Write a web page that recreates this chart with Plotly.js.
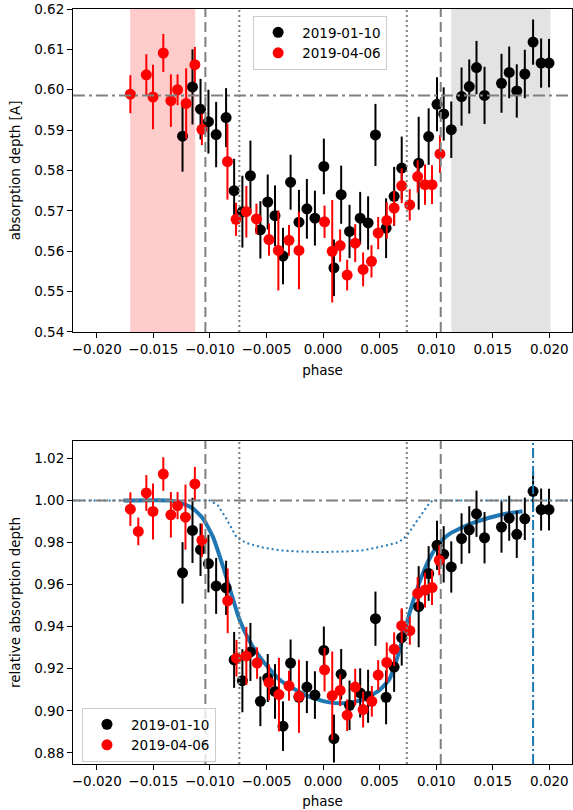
<!DOCTYPE html>
<html>
<head>
<meta charset="utf-8">
<script src="https://cdn.plot.ly/plotly-3.0.1.min.js"></script>
<style>html,body{margin:0;padding:0;background:#fff;}#chart{width:573px;height:810px;}</style>
</head>
<body>
<div id="chart"></div>
<script>
// ---------- data ----------
const labelBlack = "2019-01-10";
const labelRed = "2019-04-06";

const phaseBlack = [-0.01242,-0.01154,-0.01083,-0.01013,-0.00945,-0.00857,-0.00786,-0.00713,-0.00642,-0.00554,-0.00489,-0.00425,-0.00354,-0.00287,-0.00213,-0.00143,-0.00072,0.00007,0.00096,0.00160,0.00234,0.00328,0.00398,0.00463,0.00557,0.00628,0.00695,0.00845,0.00933,0.01007,0.01066,0.01133,0.01224,0.01292,0.01356,0.01427,0.01577,0.01645,0.01712,0.01783,0.01856,0.01927,0.01997];
const depthBlack = [0.5885,0.6007,0.5952,0.5921,0.5889,0.5931,0.5750,0.5698,0.5787,0.5653,0.5722,0.5688,0.5588,0.5771,0.5672,0.5705,0.5682,0.5810,0.5559,0.5740,0.5649,0.5682,0.5670,0.5888,0.5657,0.5736,0.5806,0.5818,0.5884,0.5964,0.5940,0.5901,0.5983,0.6008,0.6055,0.5986,0.6016,0.6043,0.5997,0.6039,0.6118,0.6066,0.6066];
const depthErrBlack = [0.0088,0.0093,0.0075,0.0079,0.0081,0.0073,0.0079,0.0089,0.0087,0.0071,0.0068,0.0075,0.0070,0.0068,0.0080,0.0074,0.0068,0.0069,0.0070,0.0072,0.0066,0.0065,0.0066,0.0077,0.0074,0.0073,0.0078,0.0115,0.0070,0.0067,0.0066,0.0070,0.0072,0.0067,0.0066,0.0071,0.0073,0.0064,0.0066,0.0060,0.0056,0.0061,0.0060];
const relBlack = [0.9656,0.9858,0.9766,0.9700,0.9594,0.9585,0.9242,0.9143,0.9280,0.9045,0.9156,0.9092,0.8927,0.9227,0.9064,0.9113,0.9075,0.9287,0.8868,0.9174,0.9026,0.9085,0.9069,0.9438,0.9064,0.9208,0.9348,0.9495,0.9653,0.9787,0.9744,0.9684,0.9819,0.9861,0.9937,0.9823,0.9874,0.9916,0.9839,0.9913,1.0044,0.9957,0.9957];
const relErrBlack = [0.0146,0.0155,0.0125,0.0137,0.0133,0.0129,0.0133,0.0150,0.0138,0.0118,0.0114,0.0130,0.0118,0.0112,0.0126,0.0124,0.0113,0.0114,0.0114,0.0120,0.0118,0.0117,0.0126,0.0129,0.0128,0.0118,0.0133,0.0193,0.0130,0.0117,0.0134,0.0122,0.0120,0.0112,0.0110,0.0122,0.0122,0.0107,0.0112,0.0101,0.0095,0.0100,0.0099];

const phaseRed = [-0.01703,-0.01562,-0.01503,-0.01412,-0.01345,-0.01286,-0.01210,-0.01133,-0.01071,-0.00845,-0.00769,-0.00678,-0.00589,-0.00478,-0.00395,-0.00301,-0.00213,0.00013,0.00081,0.00151,0.00213,0.00284,0.00354,0.00428,0.00487,0.00563,0.00628,0.00695,0.00766,0.00836,0.00901,0.00963,0.01033];
const depthRed = [0.5989,0.6037,0.5982,0.6091,0.5973,0.6000,0.5966,0.6062,0.5902,0.5822,0.5679,0.5698,0.5680,0.5629,0.5602,0.5627,0.5602,0.5673,0.5600,0.5614,0.5541,0.5620,0.5555,0.5575,0.5645,0.5676,0.5707,0.5762,0.5715,0.5785,0.5765,0.5765,0.5841];
const depthErrRed = [0.0047,0.0051,0.0080,0.0047,0.0065,0.0038,0.0087,0.0044,0.0039,0.0094,0.0041,0.0064,0.0038,0.0040,0.0099,0.0038,0.0096,0.0040,0.0127,0.0040,0.0038,0.0047,0.0042,0.0040,0.0040,0.0045,0.0043,0.0043,0.0039,0.0040,0.0050,0.0048,0.0047];

const phaseRedRel = [-0.01703,-0.01633,-0.01562,-0.01503,-0.01412,-0.01345,-0.01286,-0.01216,-0.01133,-0.01071,-0.00843,-0.00765,-0.00678,-0.00583,-0.00478,-0.00390,-0.00301,-0.00213,0.00013,0.00081,0.00151,0.00213,0.00284,0.00354,0.00431,0.00487,0.00563,0.00628,0.00695,0.00767,0.00836,0.00901,0.00963,0.01027];
const relRed = [0.9959,0.9853,1.0036,0.9948,1.0126,0.9932,0.9976,0.9921,1.0079,0.9811,0.9523,0.9250,0.9261,0.9227,0.9135,0.9077,0.9119,0.9069,0.9195,0.9072,0.9097,0.8979,0.9113,0.9006,0.9045,0.9170,0.9230,0.9293,0.9405,0.9381,0.9558,0.9574,0.9586,0.9716];
const relErrRed = [0.0080,0.0066,0.0085,0.0133,0.0080,0.0108,0.0065,0.0155,0.0081,0.0079,0.0154,0.0087,0.0138,0.0075,0.0085,0.0175,0.0071,0.0174,0.0103,0.0210,0.0075,0.0075,0.0087,0.0085,0.0073,0.0071,0.0095,0.0080,0.0083,0.0067,0.0079,0.0083,0.0083,0.0071];

const modelPhase = [-0.01765,-0.01354,-0.01236,-0.01148,-0.01060,-0.00972,-0.00883,-0.00810,-0.00736,-0.00648,-0.00530,-0.00384,-0.00236,-0.00090,0.00057,0.00205,0.00351,0.00498,0.00586,0.00646,0.00704,0.00762,0.00821,0.00880,0.00939,0.00998,0.01056,0.01115,0.01233,0.01350,0.01468,0.01615,0.01762];
const modelRel = [1.0000,1.0000,0.9984,0.9961,0.9913,0.9826,0.9684,0.9555,0.9430,0.9330,0.9235,0.9148,0.9098,0.9061,0.9040,0.9037,0.9053,0.9098,0.9150,0.9235,0.9345,0.9460,0.9563,0.9650,0.9722,0.9776,0.9814,0.9840,0.9873,0.9898,0.9918,0.9937,0.9949];

const dottedPhase = [-0.030,-0.01000,-0.00928,-0.00854,-0.00766,-0.00678,-0.00530,-0.00384,-0.00236,0.00000,0.00205,0.00351,0.00498,0.00646,0.00704,0.00763,0.00821,0.00880,0.00939,0.00968,0.030];
const dottedRel = [1.0000,1.0000,0.9976,0.9913,0.9826,0.9798,0.9776,0.9763,0.9758,0.9755,0.9758,0.9763,0.9779,0.9798,0.9814,0.9850,0.9897,0.9945,0.9987,1.0000,1.0000];

const baselineDepth = 0.5986;
const baselineRel = 1.0;
const contactOuter = 0.0104;
const contactInner = 0.0074;
const preWindow = [-0.01705, -0.0113];
const postWindow = [0.01133, 0.0201];
const markPhase = 0.01856;

// ---------- styles ----------
const FONT = "DejaVu Sans, sans-serif";
const FS = 13.5;
const BLUE = "#1f77b4";
const GREY = "#808080";

function pts(x, y, err, color, name, xa, ya, legend, showleg) {
  return {
    type: "scatter", mode: "markers", x: x, y: y, name: name,
    xaxis: xa, yaxis: ya, legend: legend, showlegend: showleg,
    marker: {color: color, size: 11},
    error_y: {type: "data", array: err, visible: true, color: color, thickness: 2, width: 0}
  };
}

const traces = [
  {type: "scatter", mode: "lines", x: dottedPhase, y: dottedRel, xaxis: "x2", yaxis: "y2", showlegend: false,
   line: {color: BLUE, width: 2, dash: "2px,3px"}},
  {type: "scatter", mode: "lines", x: modelPhase, y: modelRel, xaxis: "x2", yaxis: "y2", showlegend: false,
   line: {color: BLUE, width: 4, shape: "spline", smoothing: 0.5}},
  pts(phaseBlack, depthBlack, depthErrBlack, "black", labelBlack, "x", "y", "legend", true),
  pts(phaseRed, depthRed, depthErrRed, "red", labelRed, "x", "y", "legend", true),
  pts(phaseBlack, relBlack, relErrBlack, "black", labelBlack, "x2", "y2", "legend2", true),
  pts(phaseRedRel, relRed, relErrRed, "red", labelRed, "x2", "y2", "legend2", true)
];

function vline(x, xref, yref, dash, color, width) {
  return {type: "line", xref: xref, yref: yref + " domain", x0: x, x1: x, y0: 0, y1: 1,
          line: {color: color, width: width, dash: dash}, layer: "above"};
}
function hline(y, xref, yref, dash, color) {
  return {type: "line", xref: xref + " domain", yref: yref, x0: 0, x1: 1, y0: y, y1: y,
          line: {color: color, width: 2, dash: dash}, layer: "above"};
}

const shapes = [
  {type: "rect", xref: "x", yref: "y domain", x0: preWindow[0], x1: preWindow[1], y0: 0, y1: 1,
   fillcolor: "rgba(255,0,0,0.2)", line: {width: 0}, layer: "below"},
  {type: "rect", xref: "x", yref: "y domain", x0: postWindow[0], x1: postWindow[1], y0: 0, y1: 1,
   fillcolor: "rgba(128,128,128,0.22)", line: {width: 0}, layer: "below"},
  hline(baselineDepth, "x", "y", "12px,4px,3px,4px", GREY),
  hline(baselineRel, "x2", "y2", "12px,4px,3px,4px", GREY),
  vline(-contactOuter, "x", "y", "10px,5px", GREY, 2),
  vline(contactOuter, "x", "y", "10px,5px", GREY, 2),
  vline(-contactInner, "x", "y", "2px,3px", GREY, 2),
  vline(contactInner, "x", "y", "2px,3px", GREY, 2),
  vline(-contactOuter, "x2", "y2", "10px,5px", GREY, 2),
  vline(contactOuter, "x2", "y2", "10px,5px", GREY, 2),
  vline(-contactInner, "x2", "y2", "2px,3px", GREY, 2),
  vline(contactInner, "x2", "y2", "2px,3px", GREY, 2),
  vline(markPhase, "x2", "y2", "10px,3px,2px,3px", BLUE, 2)
];

const xcommon = {
  range: [-0.0221, 0.0220], tick0: 0, dtick: 0.005, tickformat: ".3f",
  ticks: "outside", ticklen: 5, tickwidth: 1, tickcolor: "black",
  showline: true, mirror: true, linecolor: "black", linewidth: 1,
  showgrid: false, zeroline: false,
  tickfont: {family: FONT, size: FS, color: "black"}
};
const ycommon = {
  ticks: "outside", ticklen: 5, tickwidth: 1, tickcolor: "black",
  showline: true, mirror: true, linecolor: "black", linewidth: 1,
  showgrid: false, zeroline: false, tickformat: ".2f",
  tickfont: {family: FONT, size: FS, color: "black"}
};
const legendCommon = {
  bgcolor: "rgba(255,255,255,0.8)", bordercolor: "#cccccc", borderwidth: 1,
  font: {family: FONT, size: FS, color: "black"}, xanchor: "left", yanchor: "top",
  tracegroupgap: 0, itemwidth: 38
};

const layout = {
  width: 573, height: 810,
  margin: {l: 73, r: 1, t: 9, b: 46},
  paper_bgcolor: "white", plot_bgcolor: "white",
  font: {family: FONT, size: FS, color: "black"},
  xaxis: Object.assign({}, xcommon, {anchor: "y",
    title: {text: "phase", font: {family: FONT, size: FS}, standoff: 9}}),
  yaxis: Object.assign({}, ycommon, {domain: [0.5722, 1], range: [0.54, 0.62], dtick: 0.01, tick0: 0.54, anchor: "x",
    title: {text: "absorption depth [A]", font: {family: FONT, size: FS}, standoff: 10}}),
  xaxis2: Object.assign({}, xcommon, {anchor: "y2",
    title: {text: "phase", font: {family: FONT, size: FS}, standoff: 8}}),
  yaxis2: Object.assign({}, ycommon, {domain: [0, 0.4278], range: [0.8747, 1.0283], dtick: 0.02, tick0: 0.88, anchor: "x2",
    title: {text: "relative absorption depth", font: {family: FONT, size: FS}, standoff: 10}}),
  legend: Object.assign({}, legendCommon, {x: 0.361, y: 0.9907}),
  legend2: Object.assign({}, legendCommon, {x: 0.018, y: 0.0742}),
  shapes: shapes
};

Plotly.newPlot("chart", traces, layout, {displayModeBar: false, staticPlot: true});
</script>
</body>
</html>
